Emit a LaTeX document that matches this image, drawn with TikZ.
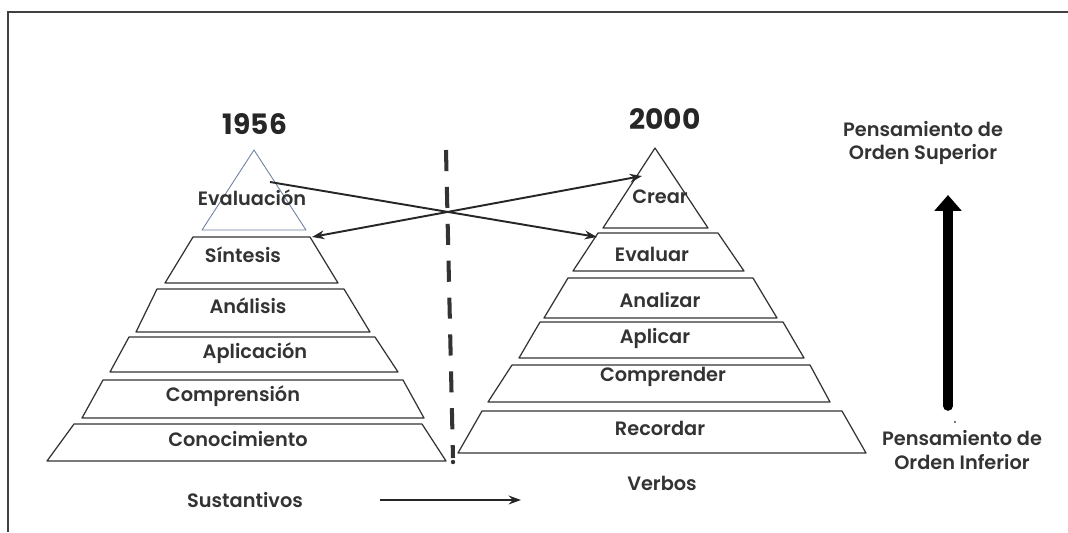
\documentclass[tikz,border=0pt]{standalone}
\usepackage{fontspec}
\setmainfont{Poppins}
\newfontfamily\rotulo{Poppins SemiBold}
\usetikzlibrary{arrows.meta}
\definecolor{azulgris}{RGB}{110,130,160}

\begin{document}
\begin{tikzpicture}[x=0.02cm,y=-0.02cm,>={Stealth[length=7pt,width=5pt]},
    capa/.style={draw=black!80,fill=white,line width=0.7pt,line join=round},
    etiq/.style={font=\rotulo\fontsize{11}{13.5}\selectfont,text=black!80,inner sep=1pt},
    anio/.style={font=\fontsize{16}{19}\selectfont\bfseries,text=black!85},
    flecha/.style={line width=1.1pt,black!85}]
  \useasboundingbox (0,0) rectangle (1068,532);
  \draw[line width=1pt,black!75] (8,532) -- (8,12) -- (1068,12);
  % 1956
  \node[anio] (a1956) at (255,124) {1956};
  \draw[capa,draw=azulgris,line width=0.5pt] (254,150) -- (306,230) -- (202,230) -- cycle;
  \node[etiq] (evaluacion) at (252,198) {Evaluación};
  \foreach \tl/\tr/\yt/\bl/\br/\yb/\tx/\ty/\n/\txt in {
      193/310/237/165/338/283/243/255/sintesis/Síntesis,
      157/344/289/136/370/332/248/306/analisis/Análisis,
      129/375/337/110/398/372/255/353/aplicacion/Aplicación,
      103/403/380/82/424/418/233/396/comprension/Comprensión,
      74/422/424/47/446/461/238/439/conocimiento/Conocimiento}
  {
    \draw[capa] (\tl,\yt) -- (\tr,\yt) -- (\br,\yb) -- (\bl,\yb) -- cycle;
    \node[etiq] (\n) at (\tx,\ty) {\txt};
  }
  % 2000
  \node[anio] (a2000) at (665,119) {2000};
  \draw[capa] (655,148) -- (708,228) -- (603,228) -- cycle;
  \node[etiq] (crear) at (660,197) {Crear};
  \foreach \tl/\tr/\yt/\bl/\br/\yb/\tx/\ty/\n/\txt in {
      598/718/233/573/744/271/652/254/evaluar/Evaluar,
      568/753/278/544/777/318/660/300/analizar/Analizar,
      540/783/322/519/804/358/655/338/aplicar/Aplicar,
      512/810/365/488/830/402/663/377/comprender/Comprender,
      482/842/411/458/866/453/660/428/recordar/Recordar}
  {
    \draw[capa] (\tl,\yt) -- (\tr,\yt) -- (\br,\yb) -- (\bl,\yb) -- cycle;
    \node[etiq] (\n) at (\tx,\ty) {\txt};
  }
  % divisoria
  \draw[line width=2.3pt,black!80,dash pattern=on 12pt off 9pt] (446,150) -- (453,458);
  \fill[black!80] (453,462) circle (2.2);
  % cruces
  \coordinate (evalIni) at (270,182);
  \coordinate (evalFin) at (597,237);
  \coordinate (sintFin) at (312,237);
  \coordinate (crearFin) at (642,176);
  \draw[flecha,->] (evalIni) -- (evalFin);
  \draw[flecha,<->] (sintFin) -- (crearFin);
  % abajo
  \node[etiq] (sustantivos) at (245,500) {Sustantivos};
  \node[etiq] (verbos) at (662,483) {Verbos};
  \coordinate (sIni) at (380,500);
  \coordinate (sFin) at (521,500);
  \draw[line width=1.2pt,black!85,->] (sIni) -- (sFin);
  % derecha
  \node[etiq,align=center] (superior) at (923,143) {Pensamiento de\\Orden Superior};
  \node[etiq,align=center] (inferior) at (962,450) {Pensamiento de\\Orden Inferior};
  \coordinate (gIni) at (948,406);
  \coordinate (gFin) at (948,195);
  \draw[line width=5.5pt,black,line cap=round,-{Triangle[width=15pt,length=9pt]}] (gIni) -- (gFin);
  \fill[black!70] (955,422) circle (1.2);
\end{tikzpicture}
\end{document}
